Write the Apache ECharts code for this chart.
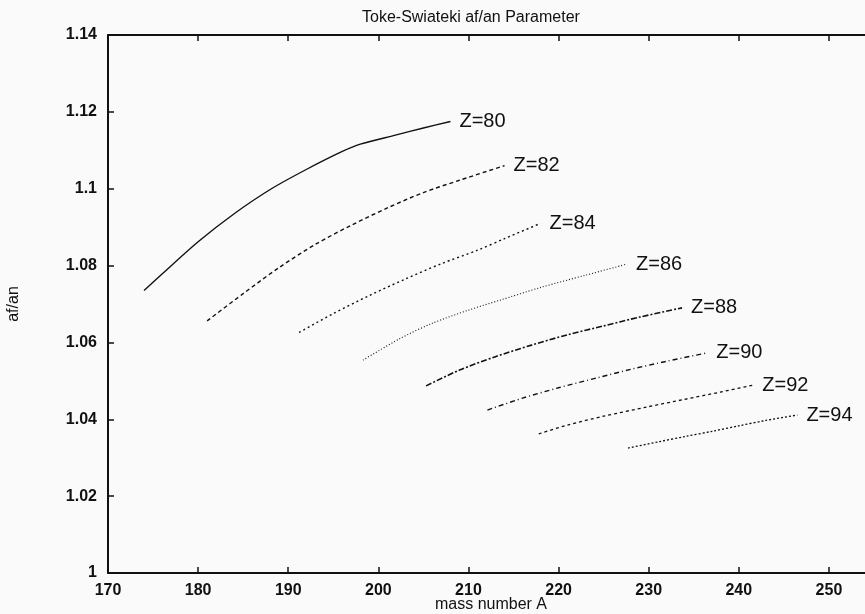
<html>
<head>
<meta charset="utf8">
<script src="https://cdn.jsdelivr.net/npm/echarts@6/dist/echarts.min.js" type="text/javascript"></script>
<title>Toke-Swiateki af/an Parameter</title>
<style>
  body { margin: 0; background: #fafafa; }
  #main { width: 865px; height: 614px; }
</style>
</head>
<body>
<div id="main"></div>
<script type="text/javascript">
	// values, [mass number A, af/an]
	var z80 = [[174, 1.0735], [176, 1.0778], [180, 1.0862], [184, 1.0935], [188, 1.0998], [192, 1.1050], [196, 1.1097], [198, 1.1116], [202, 1.1140], [205, 1.1158], [208, 1.1175]];
	var z82 = [[181, 1.0656], [185, 1.0727], [189, 1.0795], [193, 1.0855], [197, 1.0905], [201, 1.0950], [205, 1.0990], [209, 1.1022], [214, 1.1060]];
	var z84 = [[191.2, 1.0626], [195, 1.0675], [199, 1.0722], [203, 1.0765], [207, 1.0805], [211, 1.0840], [214, 1.0870], [218, 1.0910]];
	var z86 = [[198.3, 1.0554], [202.4, 1.0610], [206, 1.0650], [210, 1.0684], [213.5, 1.0710], [218, 1.0743], [223, 1.0775], [227.6, 1.0804]];
	var z88 = [[205.3, 1.0487], [209, 1.0528], [213, 1.0563], [217, 1.0593], [221, 1.0620], [225, 1.0643], [229, 1.0666], [233.7, 1.0690]];
	var z90 = [[212.1, 1.0424], [216, 1.0455], [220, 1.0482], [224.3, 1.0508], [228, 1.0530], [232, 1.0551], [236.5, 1.0573]];
	var z92 = [[217.8, 1.0362], [221, 1.0385], [225, 1.0408], [229.8, 1.0432], [234, 1.0452], [238, 1.0471], [241.6, 1.0489]];
	var z94 = [[227.7, 1.0325], [231, 1.0341], [234, 1.0355], [237.1, 1.0369], [240, 1.0383], [243, 1.0397], [246.5, 1.0411]];

	var curves = [
		{ name: 'Z=80', data: z80, dash: 'solid', width: 1.4 },
		{ name: 'Z=82', data: z82, dash: [4, 3], width: 1.4 },
		{ name: 'Z=84', data: z84, dash: [2, 3], width: 1.4 },
		{ name: 'Z=86', data: z86, dash: [1, 2], width: 1.1 },
		{ name: 'Z=88', data: z88, dash: [6, 2, 2, 2], width: 1.6 },
		{ name: 'Z=90', data: z90, dash: [5, 3, 1, 3], width: 1.4 },
		{ name: 'Z=92', data: z92, dash: [3, 3], width: 1.3 },
		{ name: 'Z=94', data: z94, dash: [2, 2], width: 1.3 }
	];

	var font = '"Liberation Sans", Arial, sans-serif';

	function makeSeries() {
		var out = [];
		for (var i = 0; i < curves.length; i++) {
			var c = curves[i];
			out.push({
				type: 'line',
				name: c.name,
				data: c.data,
				smooth: 0.3,
				showSymbol: false,
				lineStyle: { color: '#111', width: c.width, type: c.dash },
				endLabel: {
					show: true,
					formatter: c.name,
					distance: 9,
					color: '#111',
					fontFamily: font,
					fontSize: 20
				},
				silent: true,
				animation: false
			});
		}
		return out;
	}

	var myChart = echarts.init(document.getElementById('main'));
	var option = {
		backgroundColor: '#fafafa',
		title: {
			text: 'Toke-Swiateki af/an Parameter',
			left: 357,
			top: 5,
			textStyle: { fontFamily: font, fontSize: 16, fontWeight: 'normal', color: '#111' }
		},
		grid: { left: 108, top: 35, width: 766, height: 538, outerBoundsMode: 'none', containLabel: false },
		xAxis: [
			{
				type: 'value',
				min: 170,
				max: 255,
				interval: 10,
				name: 'mass number A',
				nameLocation: 'middle',
				nameGap: 24,
				nameMoveOverlap: false,
				nameTextStyle: { fontFamily: font, fontSize: 16, color: '#111' },
				axisLine: { lineStyle: { color: '#111', width: 2 } },
				axisTick: { inside: true, length: 6, lineStyle: { color: '#111', width: 1.5 } },
				axisLabel: { fontFamily: font, fontSize: 16, fontWeight: 'bold', color: '#111', margin: 10,
					formatter: function (v) { return v <= 250 ? String(v) : ''; } },
				splitLine: { show: false }
			},
			{
				type: 'value',
				position: 'top',
				min: 170,
				max: 255,
				interval: 10,
				axisLine: { show: true, lineStyle: { color: '#111', width: 2 } },
				axisTick: { show: true, inside: true, length: 6, lineStyle: { color: '#111', width: 1.5 } },
				axisLabel: { show: false },
				splitLine: { show: false }
			}
		],
		yAxis: [
			{
				type: 'value',
				min: 1,
				max: 1.14,
				interval: 0.02,
				name: 'af/an',
				nameLocation: 'middle',
				nameGap: 86,
				nameMoveOverlap: false,
				nameRotate: 90,
				nameTextStyle: { fontFamily: font, fontSize: 16, color: '#111' },
				axisLine: { lineStyle: { color: '#111', width: 2 } },
				axisTick: { inside: true, length: 6, lineStyle: { color: '#111', width: 1.5 } },
				axisLabel: { fontFamily: font, fontSize: 16, fontWeight: 'bold', color: '#111', margin: 11,
					formatter: function (v) { return String(+v.toFixed(2)); } },
				splitLine: { show: false }
			},
			{
				type: 'value',
				position: 'right',
				min: 1,
				max: 1.14,
				interval: 0.02,
				axisLine: { show: true, lineStyle: { color: '#111', width: 2 } },
				axisTick: { show: true, inside: true, length: 6, lineStyle: { color: '#111', width: 1.5 } },
				axisLabel: { show: false },
				splitLine: { show: false }
			}
		],
		series: makeSeries()
	};
	myChart.setOption(option);
</script>
</body>
</html>
